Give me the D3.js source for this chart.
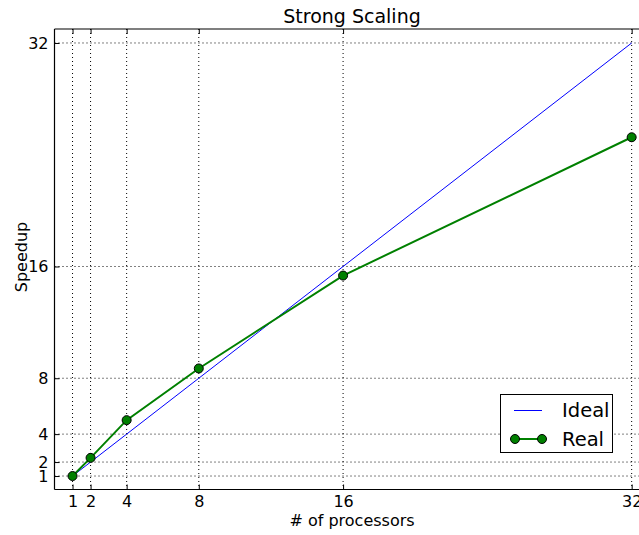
<!DOCTYPE html>
<html><head><meta charset="utf-8">
<script src="https://cdn.jsdelivr.net/npm/d3@7"></script>
<style>body{margin:0;background:#fff}svg{display:block;font-family:"DejaVu Sans",sans-serif}</style>
</head><body>
<svg id="c" width="639" height="535"></svg>
<script>
const processors = [1, 2, 4, 8, 16, 32];
const idealSpeedup = [1, 2, 4, 8, 16, 32];
const realSpeedup = [1.0, 2.3, 5.0, 8.7, 15.35, 25.25];
const xTicks = [1, 2, 4, 8, 16, 32];
const yTicks = [1, 2, 4, 8, 16, 32];

const svg = d3.select("#c");
const L = 54.5, T = 29, B = 489.5, R = 649.7;
const x = d3.scaleLinear().domain([0, 33]).range([L, R]);
const y = d3.scaleLinear().domain([0, 33]).range([490, T]);

const g = svg.append("g");
// grid
g.selectAll(".gx").data(xTicks).enter().append("line")
  .attr("x1", d => x(d)).attr("x2", d => x(d)).attr("y1", T).attr("y2", B)
  .attr("stroke", "#000").attr("stroke-width", 1).attr("stroke-dasharray", "1,3");
g.selectAll(".gy").data(yTicks).enter().append("line")
  .attr("y1", d => y(d)).attr("y2", d => y(d)).attr("x1", L).attr("x2", R)
  .attr("stroke", "#000").attr("stroke-width", 1).attr("stroke-dasharray", "1,3");

// axes (ticks inside)
const xa = g.append("g").attr("transform", `translate(0,${B})`)
  .call(d3.axisBottom(x).tickValues(xTicks).tickSize(-5).tickPadding(6));
const xt = g.append("g").attr("transform", `translate(0,${T})`)
  .call(d3.axisTop(x).tickValues(xTicks).tickSize(-5).tickFormat(""));
const ya = g.append("g").attr("transform", `translate(${L},0)`)
  .call(d3.axisLeft(y).tickValues(yTicks).tickSize(-5).tickPadding(6));
[xa, xt, ya].forEach(a => {
  a.select(".domain").remove();
  a.selectAll("line").attr("stroke", "#000");
  a.selectAll("text").attr("font-size", 16).attr("fill", "#000").attr("font-family", "DejaVu Sans");
});
// frame
g.append("line").attr("x1", L).attr("x2", R).attr("y1", B).attr("y2", B).attr("stroke", "#000").attr("stroke-width", 1.2);
g.append("line").attr("x1", L).attr("x2", R).attr("y1", T).attr("y2", T).attr("stroke", "#000").attr("stroke-width", 1.2);
g.append("line").attr("x1", L).attr("x2", L).attr("y1", T).attr("y2", B).attr("stroke", "#000").attr("stroke-width", 1.2);

// lines
const line = d3.line();
g.append("path").attr("d", line(processors.map((p, i) => [x(p), y(idealSpeedup[i])])))
  .attr("fill", "none").attr("stroke", "#0000ff").attr("stroke-width", 1);
g.append("path").attr("d", line(processors.map((p, i) => [x(p), y(realSpeedup[i])])))
  .attr("fill", "none").attr("stroke", "#008000").attr("stroke-width", 2);
g.selectAll(".pt").data(processors).enter().append("circle")
  .attr("cx", d => x(d)).attr("cy", (d, i) => y(realSpeedup[i])).attr("r", 4.5)
  .attr("fill", "#008000").attr("stroke", "#000").attr("stroke-width", 1);

// labels
svg.append("text").attr("x", 352).attr("y", 23).attr("text-anchor", "middle").attr("font-size", 19).text("Strong Scaling");
svg.append("text").attr("x", 352).attr("y", 526).attr("text-anchor", "middle").attr("font-size", 16).text("# of processors");
svg.append("text").attr("transform", "translate(27,257) rotate(-90)").attr("text-anchor", "middle").attr("font-size", 16).text("Speedup");

// legend
const lg = svg.append("g");
lg.append("rect").attr("x", 500.5).attr("y", 394.5).attr("width", 112).attr("height", 58)
  .attr("fill", "#fff").attr("stroke", "#000").attr("stroke-width", 1);
lg.append("line").attr("x1", 514).attr("x2", 542).attr("y1", 410.5).attr("y2", 410.5).attr("stroke", "#0000ff");
lg.append("text").attr("x", 562).attr("y", 417).attr("font-size", 19.5).text("Ideal");
lg.append("line").attr("x1", 515).attr("x2", 542).attr("y1", 439).attr("y2", 439).attr("stroke", "#008000").attr("stroke-width", 2);
[515, 542].forEach(cx => lg.append("circle").attr("cx", cx).attr("cy", 439).attr("r", 4.5)
  .attr("fill", "#008000").attr("stroke", "#000"));
lg.append("text").attr("x", 562).attr("y", 446).attr("font-size", 19.5).text("Real");
</script>
</body></html>
